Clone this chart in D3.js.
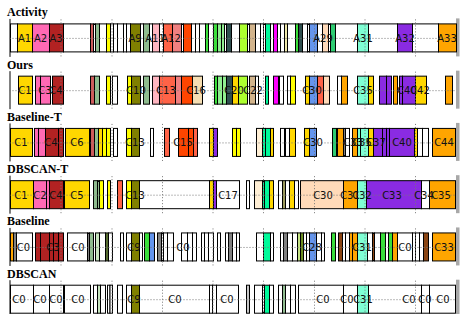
<!DOCTYPE html>
<html><head><meta charset="utf-8">
<script src="https://cdn.jsdelivr.net/npm/d3@7"></script>
<style>html,body{margin:0;padding:0;background:#fff;}svg{display:block;}</style>
</head><body>
<svg id="chart" width="460" height="314"></svg>
<script>
// ---------- DATA (time in seconds) ----------
const rowNames = ["Activity", "Ours", "Baseline-T", "DBSCAN-T", "Baseline", "DBSCAN"];
const timeTicks = [101, 203, 304, 405, 506, 608, 709, 810];
const timeDomain = [0, 892];

// segments: [start, end, colour code]
const activitySegs = [
 [0,14,"W"],[14,44,"GO"],[44,78,"HP"],[78,106,"FB"],[106,160,"W"],[160,166,"IR"],[166,170,"W"],[170,178,"DSG"],
 [178,192,"W"],[192,200,"YL"],[200,206,"W"],[206,214,"W"],[214,226,"W"],[226,232,"W"],[232,240,"W"],[240,260,"OL"],
 [260,266,"W"],[266,278,"DSG"],[278,284,"W"],[284,298,"LP"],[298,306,"W"],[306,324,"TM"],[324,342,"LC"],[342,346,"W"],
 [346,362,"OR"],[362,370,"W"],[370,378,"W"],[378,390,"W"],[390,396,"LM"],[396,406,"W"],[406,414,"LM"],[414,422,"LG"],
 [422,428,"LG"],[428,432,"W"],[432,442,"DS"],[442,458,"W"],[458,474,"GY"],[474,478,"W"],[478,490,"TN"],[490,500,"W"],
 [500,506,"W"],[506,510,"W"],[510,520,"MS"],[520,526,"W"],[526,534,"MG"],[534,540,"W"],[540,548,"W"],[548,554,"PG"],
 [554,570,"W"],[570,576,"LM"],[576,584,"DS"],[584,594,"W"],[594,598,"W"],[598,614,"CB"],[614,624,"W"],[624,636,"PP"],
 [636,640,"W"],[640,650,"SG"],[650,694,"W"],[694,716,"AQ"],[716,774,"W"],[774,804,"BV"],[804,856,"W"],[856,892,"OG"]
];
const activityLabels = [["A1",29],["A2",61],["A3",92],["A9",250],["A11",290],["A12",322],["A29",626],["A31",706],["A32",790],["A33",874]];

const oursSegs = [
 [16,44,"GO"],[50,60,"HP"],[60,80,"HP"],[84,106,"FB"],[160,168,"IR"],[168,178,"DSG"],[192,200,"YL"],[204,214,"W"],
 [234,242,"YL"],[242,260,"OL"],[266,278,"DSG"],[284,298,"LP"],[298,330,"TM"],[330,342,"LC"],[342,364,"OR"],[364,384,"WT"],
 [408,414,"LM"],[414,424,"LG"],[424,432,"LG"],[432,444,"DS"],[444,456,"GO"],[456,474,"GY"],[478,490,"TN"],[490,496,"W"],
 [510,516,"MS"],[526,536,"MG"],[538,546,"W"],[554,560,"W"],[560,570,"YL"],[590,598,"GO"],[598,614,"CB"],[614,626,"TM"],
 [626,638,"PP"],[654,662,"W"],[662,674,"OG"],[694,716,"AQ"],[716,726,"GO"],[738,752,"BV"],[752,762,"BV"],[766,774,"OG"],
 [778,784,"BV"],[784,810,"BV"],[810,832,"GO"],[870,884,"OG"]
];
const oursLabels = [["C1",30],["C3",70],["C4",92],["C10",252],["C13",312],["C16",372],["C20",448],["C22",486],["C30",604],["C35",706],["C40",794],["C42",820]];

const baselineTSegs = [
 [0,44,"GO"],[48,56,"HP"],[56,70,"HP"],[70,96,"FB"],[96,106,"FB"],[110,158,"GO"],[160,168,"IR"],[168,176,"DSG"],
 [176,184,"GO"],[184,192,"YL"],[192,200,"YL"],[206,214,"W"],[232,242,"YL"],[242,258,"OL"],[280,286,"W"],[308,318,"TM"],
 [336,356,"OR"],[356,366,"OR"],[366,374,"TM"],[398,406,"GO"],[406,414,"BV"],[444,452,"YL"],[452,460,"YL"],[492,504,"PW"],
 [504,510,"MS"],[510,520,"MS"],[520,526,"GO"],[540,548,"W"],[550,558,"W"],[558,570,"GO"],[588,598,"GO"],[598,612,"CB"],
 [644,652,"SG"],[654,666,"OG"],[666,670,"GR"],[670,678,"W"],[684,694,"OG"],[694,700,"AQ"],[700,716,"AQ"],[716,726,"GO"],
 [726,744,"BV"],[744,752,"BV"],[752,758,"BV"],[758,808,"BV"],[808,814,"GO"],[814,824,"W"],[824,836,"W"],[844,890,"OG"]
];
const baselineTLabels = [["C1",22],["C4",82],["C6",134],["C13",250],["C15",346],["C30",606],["C33",686],["C35",704],["C37",732],["C40",784],["C44",868]];

const dbscanTSegs = [
 [0,46,"GO"],[46,72,"HP"],[72,78,"HP"],[78,106,"FB"],[108,158,"GO"],[166,174,"DSG"],[174,178,"DSG"],[178,186,"YL"],
 [194,200,"YL"],[214,224,"TM"],[232,242,"YL"],[242,258,"OL"],[258,398,"W"],[398,406,"GO"],[406,412,"BV"],[412,458,"W"],
 [472,478,"W"],[488,504,"PW"],[504,508,"MS"],[508,518,"MS"],[518,526,"GO"],[536,544,"W"],[544,550,"DK"],[550,558,"W"],
 [558,568,"GO"],[568,576,"W"],[580,666,"PP"],[666,694,"OG"],[694,712,"AQ"],[712,822,"BV"],[822,838,"W"],[838,890,"OG"]
];
const dbscanTLabels = [["C1",22],["C2",60],["C4",92],["C5",134],["C13",250],["C17",436],["C30",626],["C31",680],["C32",704],["C33",764],["C34",828],["C35",862]];

const baselineSegs = [
 [0,6,"OG"],[6,12,"GR"],[12,44,"W"],[50,60,"FB"],[60,78,"FB"],[78,86,"FB"],[86,96,"FB"],[96,106,"FB"],
 [114,154,"W"],[154,158,"GR"],[158,166,"DSG"],[170,178,"HD"],[178,190,"W"],[190,196,"DO"],[196,204,"W"],[220,226,"W"],
 [232,242,"W"],[242,258,"OL"],[258,264,"W"],[268,278,"LM"],[278,288,"CB"],[294,302,"GR"],[302,306,"W"],[306,314,"W"],
 [314,326,"W"],[342,354,"W"],[354,364,"W"],[364,372,"W"],[382,388,"W"],[388,396,"W"],[396,406,"W"],[414,420,"W"],
 [430,436,"W"],[436,444,"GR"],[444,452,"W"],[452,458,"W"],[492,506,"W"],[506,520,"MS"],[520,526,"W"],[540,546,"W"],
 [546,554,"GR"],[554,564,"W"],[564,574,"W"],[574,580,"GYL"],[580,586,"YG"],[586,592,"W"],[592,598,"W"],[598,612,"CB"],
 [612,622,"W"],[622,628,"W"],[642,650,"LM"],[656,664,"SB"],[664,670,"W"],[670,678,"W"],[678,684,"OG"],[684,694,"OG"],
 [694,714,"AQ"],[714,724,"W"],[724,728,"SB"],[728,740,"W"],[740,750,"LM"],[750,756,"W"],[756,764,"LM"],[764,774,"OG"],
 [774,804,"W"],[804,810,"W"],[810,818,"W"],[818,826,"W"],[826,836,"SB"],[844,890,"OG"]
];
const baselineLabels = [["C0",27],["C3",86],["C0",136],["C9",248],["C0",346],["C28",604],["C31",704],["C0",790],["C33",868]];

const dbscanSegs = [
 [0,46,"W"],[46,78,"W"],[78,106,"W"],[108,160,"W"],[166,174,"W"],[174,180,"HD"],[180,190,"W"],[194,199,"W"],
 [199,204,"W"],[214,224,"W"],[232,242,"W"],[242,258,"OL"],[258,398,"W"],[398,404,"W"],[404,412,"W"],[412,456,"W"],
 [472,478,"LGR"],[488,504,"W"],[504,508,"W"],[508,518,"MS"],[518,526,"W"],[536,544,"W"],[544,550,"DSG"],[550,560,"W"],
 [560,570,"W"],[576,666,"W"],[666,694,"W"],[694,716,"AQ"],[716,822,"W"],[822,838,"W"],[838,890,"W"]
];
const dbscanLabels = [["C0",18],["C0",60],["C0",92],["C0",136],["C9",248],["C0",330],["C0",434],["C0",626],["C0",674],["C31",706],["C0",798],["C0",830],["C0",866]];

const rowSegs = [activitySegs, oursSegs, baselineTSegs, dbscanTSegs, baselineSegs, dbscanSegs];
const rowLabels = [activityLabels, oursLabels, baselineTLabels, dbscanTLabels, baselineLabels, dbscanLabels];

// ---------- STYLE ----------
const palette = {
 W:"#ffffff", GO:"#ffd700", HP:"#ff69b4", FB:"#b22222", IR:"#cd5c5c", DSG:"#8fbc8f", YL:"#ffff00", OL:"#808000",
 LP:"#ffb6c1", TM:"#ff6347", LC:"#f08080", OR:"#ff4500", WT:"#f5deb3", LM:"#3adf3a", LG:"#90ee90", DS:"#2f4f4f",
 GY:"#adff2f", TN:"#d2b48c", MS:"#00fa9a", MG:"#ff00ff", PG:"#eee8aa", CB:"#6495ed", PP:"#ffdab9", SG:"#2ecc71",
 AQ:"#7fffd4", BV:"#8a2be2", OG:"#ffa500", PW:"#ffefd5", GR:"#808080", SB:"#8b4513", HD:"#c8e6c0", DO:"#556b2f",
 DK:"#9c9a5e", YG:"#6b8e23", GYL:"#c5e384", LGR:"#c8c8c8"
};

const svg = d3.select("#chart");
const x = d3.scaleLinear().domain(timeDomain).range([10, 456]);
const rowTop = d3.scaleLinear().domain([0, rowNames.length - 1]).range([23.4, 284.7]);
const stripH = 28, pad = 5;

rowNames.forEach((name, i) => {
  const top = rowTop(i);
  const g = svg.append("g");
  // title
  g.append("text").attr("x", 7).attr("y", top - 7)
    .attr("font-family", "'Liberation Serif', 'Times New Roman', serif")
    .attr("font-weight", "bold").attr("font-size", 12).attr("fill", "#000").text(name);

  const y = d3.scaleLinear().domain([0, 1]).range([top + stripH + pad, top - pad]);

  // right gray edge
  g.append("rect").attr("x", x(timeDomain[1])).attr("y", y(1)).attr("width", 3.5)
    .attr("height", y(0) - y(1)).attr("fill", "#a8a8a8");

  // bars
  g.selectAll("rect.seg").data(rowSegs[i]).join("rect").attr("class", "seg")
    .attr("x", d => x(d[0]) + 0.5)
    .attr("y", top + 0.5)
    .attr("width", d => Math.max(0, x(d[1]) - x(d[0])))
    .attr("height", stripH)
    .attr("fill", d => palette[d[2]])
    .attr("stroke", "#000").attr("stroke-width", 1);

  // vertical grid (on top of bars)
  const gx = g.append("g").attr("transform", `translate(0,${y(0)})`)
    .call(d3.axisBottom(x).tickValues(timeTicks).tickSize(-(y(0) - y(1))).tickFormat(""));
  gx.select(".domain").remove();
  gx.selectAll("line").attr("stroke", "#777").attr("stroke-dasharray", "1,2").attr("stroke-width", 1);

  // horizontal grid + left spine
  const gy = g.append("g").attr("transform", `translate(${x(0) - 0.5},0)`)
    .call(d3.axisLeft(y).tickValues([0.5 - 0.5 / (stripH + 2 * pad)]).tickSize(-(x(timeDomain[1]) - x(0))).tickSizeOuter(0).tickFormat(""));
  gy.select(".domain").attr("stroke", "#000").attr("stroke-width", 1);
  gy.selectAll(".tick line").attr("stroke", "#777").attr("stroke-dasharray", "1,2").attr("stroke-width", 1);

  // labels
  g.selectAll("text.lab").data(rowLabels[i]).join("text").attr("class", "lab")
    .attr("x", d => x(d[1])).attr("y", top + stripH / 2 + 1)
    .attr("text-anchor", "middle").attr("dominant-baseline", "central")
    .attr("font-family", "'DejaVu Sans', sans-serif").attr("font-size", 10).attr("fill", "#111")
    .text(d => d[0]);
});
</script>
</body></html>
